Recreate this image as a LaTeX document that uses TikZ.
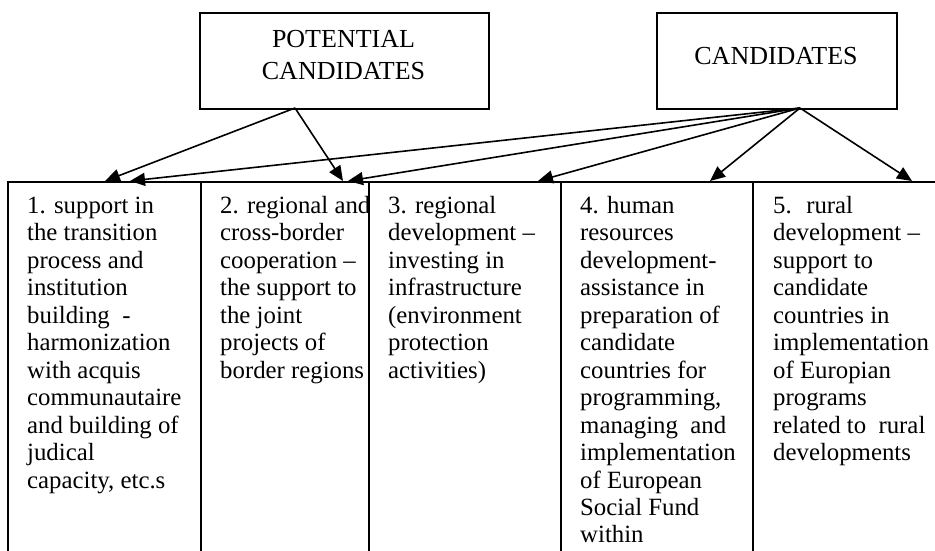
\documentclass[tikz,border=0pt]{standalone}
\usepackage{fontspec}
\setmainfont{Liberation Serif}
\usetikzlibrary{arrows.meta}
\tikzset{
  boxline/.style={draw, line width=1.6pt, inner sep=0pt},
  colbox/.style={boxline, anchor=north west, minimum height=450pt},
  bodytext/.style={anchor=base west, inner sep=0pt, font=\fontsize{24.8}{27.5}\selectfont},
  toptext/.style={anchor=base, inner sep=0pt, font=\fontsize{26}{32}\selectfont},
  conn/.style={line width=1.6pt, -{Triangle[length=15pt,width=13pt]}}
}
\begin{document}
\begin{tikzpicture}[x=1pt,y=-1pt]
\useasboundingbox (0,0) rectangle (935,551);
\clip (0,0) rectangle (935,551);
% top boxes
\node[boxline, anchor=north west, minimum width=289pt, minimum height=96pt] (pc) at (199,12) {};
\node[boxline, anchor=north west, minimum width=240pt, minimum height=96pt] (cand) at (656,12) {};
\node[toptext] (pctext) at (343.5,48) {\parbox[t]{289pt}{\centering POTENTIAL\\CANDIDATES}};
\node[toptext] (candtext) at (776,65) {CANDIDATES};
% bottom columns
\node[colbox, minimum width=193pt] (b1) at (7,181) {};
\node[colbox, minimum width=168pt] (b2) at (200,181) {};
\node[colbox, minimum width=192pt] (b3) at (368,181) {};
\node[colbox, minimum width=192pt] (b4) at (560,181) {};
\node[colbox, minimum width=200pt] (b5) at (752,181) {};
% texts
\node[bodytext] (b1t) at (27,213) {\parbox[t]{200pt}{1. support in\\the transition\\process and\\institution\\building~ -\\harmonization\\with acquis\\communautaire\\and building of\\judical\\capacity, etc.s}};
\node[bodytext] (b2t) at (220,213) {\parbox[t]{200pt}{2. regional and\\cross-border\\cooperation \textendash\\the support to\\the joint\\projects of\\border regions}};
\node[bodytext] (b3t) at (388,213) {\parbox[t]{200pt}{3. regional\\development \textendash\\investing in\\infrastructure\\(environment\\protection\\activities)}};
\node[bodytext] (b4t) at (580,213) {\parbox[t]{200pt}{4. human\\resources\\development-\\assistance in\\preparation of\\candidate\\countries for\\programming,\\managing~ and\\implementation\\of European\\Social Fund\\within}};
\node[bodytext] (b5t) at (773,213) {\parbox[t]{200pt}{5.~ rural\\development \textendash\\support to\\candidate\\countries in\\implementation\\of Europian\\programs\\related to~ rural\\developments}};
% connector end points
\coordinate (pco) at (295,108);
\coordinate (cando) at (800,108);
\coordinate (t1a) at (105,181);
\coordinate (t1b) at (130,181);
\coordinate (t2a) at (343,181);
\coordinate (t2b) at (348,181);
\coordinate (t3) at (538,181);
\coordinate (t4) at (710,181);
\coordinate (t5) at (912,181);
% connectors
\draw[conn] (pco) -- (t1a);
\draw[conn] (pco) -- (t2a);
\draw[conn] (cando) -- (t1b);
\draw[conn] (cando) -- (t2b);
\draw[conn] (cando) -- (t3);
\draw[conn] (cando) -- (t4);
\draw[conn] (cando) -- (t5);
\end{tikzpicture}
\end{document}
